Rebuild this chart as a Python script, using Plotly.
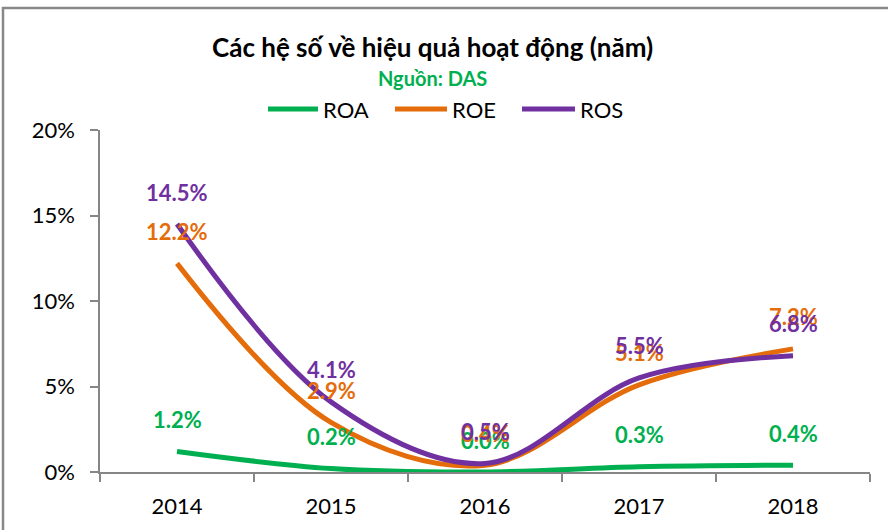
import plotly.graph_objects as go

years = ["2014", "2015", "2016", "2017", "2018"]
roa = [1.2, 0.2, 0.0, 0.3, 0.4]
roe = [12.2, 2.9, 0.4, 5.1, 7.2]
ros = [14.5, 4.1, 0.5, 5.5, 6.8]
series_names = ["ROA", "ROE", "ROS"]
y_ticks = [0, 5, 10, 15, 20]
y_tick_labels = ["0%", "5%", "10%", "15%", "20%"]

colors = {"ROA": "#00B050", "ROE": "#E46C0A", "ROS": "#7030A0"}
data = {"ROA": roa, "ROE": roe, "ROS": ros}

W, H = 888, 530
L, R, T, B = 100, 18, 130, 58
pw, ph = W - L - R, H - T - B

def px(x):
    return (x - L) / pw

def py(y):
    return (H - B - y) / ph

fig = go.Figure()
for name in series_names:
    fig.add_trace(go.Scatter(
        x=years, y=data[name], mode="lines", name=name,
        line=dict(color=colors[name], width=5, shape="spline", smoothing=1.0),
        showlegend=False, hoverinfo="skip"))

annotations = []
for name in series_names:
    for i, yv in enumerate(data[name]):
        annotations.append(dict(
            x=i, y=yv, xref="x", yref="y", text=f"<b>{yv:.1f}%</b>", showarrow=False,
            xanchor="center", yanchor="middle",
            yshift=32, font=dict(family="Lato", size=22, color=colors[name])))

annotations.append(dict(x=px(432), y=py(47), xref="paper", yref="paper",
                        xanchor="center", yanchor="middle",
                        text="<b>Các hệ số về hiệu quả hoạt động (năm)</b>", showarrow=False,
                        font=dict(family="Lato", size=26, color="#000000")))
annotations.append(dict(x=px(432), y=py(78), xref="paper", yref="paper",
                        xanchor="center", yanchor="middle",
                        text="<b>Nguồn: DAS</b>", showarrow=False,
                        font=dict(family="Lato", size=20, color="#00B050")))

shapes = []
legend_pos = {"ROA": (268, 318), "ROE": (395, 447), "ROS": (522, 575)}
for name in series_names:
    x0, x1 = legend_pos[name]
    shapes.append(dict(type="line", xref="paper", yref="paper",
                       x0=px(x0), x1=px(x1), y0=py(109), y1=py(109),
                       line=dict(color=colors[name], width=5)))
    annotations.append(dict(x=px(x1 + 3), y=py(109), xref="paper", yref="paper",
                            text=name, showarrow=False, xanchor="left", yanchor="middle",
                            font=dict(family="Lato", size=22, color="#000000")))

shapes.append(dict(type="rect", xref="paper", yref="paper",
                   x0=px(3), x1=px(W + 20), y0=py(H + 20), y1=py(8),
                   line=dict(color="#888888", width=2.5), fillcolor="rgba(0,0,0,0)", layer="below"))

fig.update_layout(
    width=W, height=H,
    margin=dict(l=L, r=R, t=T, b=B, pad=0),
    paper_bgcolor="white", plot_bgcolor="white",
    annotations=annotations, shapes=shapes,
    font=dict(family="Lato", size=22, color="#000000"),
    xaxis=dict(type="category", range=[-0.5, 4.5], showgrid=False, zeroline=False,
               showline=True, linecolor="#868686", linewidth=1.5,
               ticks="outside", tickson="boundaries", ticklen=8, tickcolor="#868686", tickwidth=1.5,
               tickfont=dict(family="Lato", size=22, color="#000000"), ticklabelstandoff=14),
    yaxis=dict(range=[0, 20], tickvals=y_ticks, ticktext=y_tick_labels, showgrid=False,
               zeroline=False, showline=True, linecolor="#868686", linewidth=1.5,
               ticks="outside", ticklen=8, tickcolor="#868686", tickwidth=1.5,
               tickfont=dict(family="Lato", size=22, color="#000000"), ticklabelstandoff=11),
)

fig.write_html("out.html", config={"displayModeBar": False},
               post_script="document.body.style.margin='0';")
